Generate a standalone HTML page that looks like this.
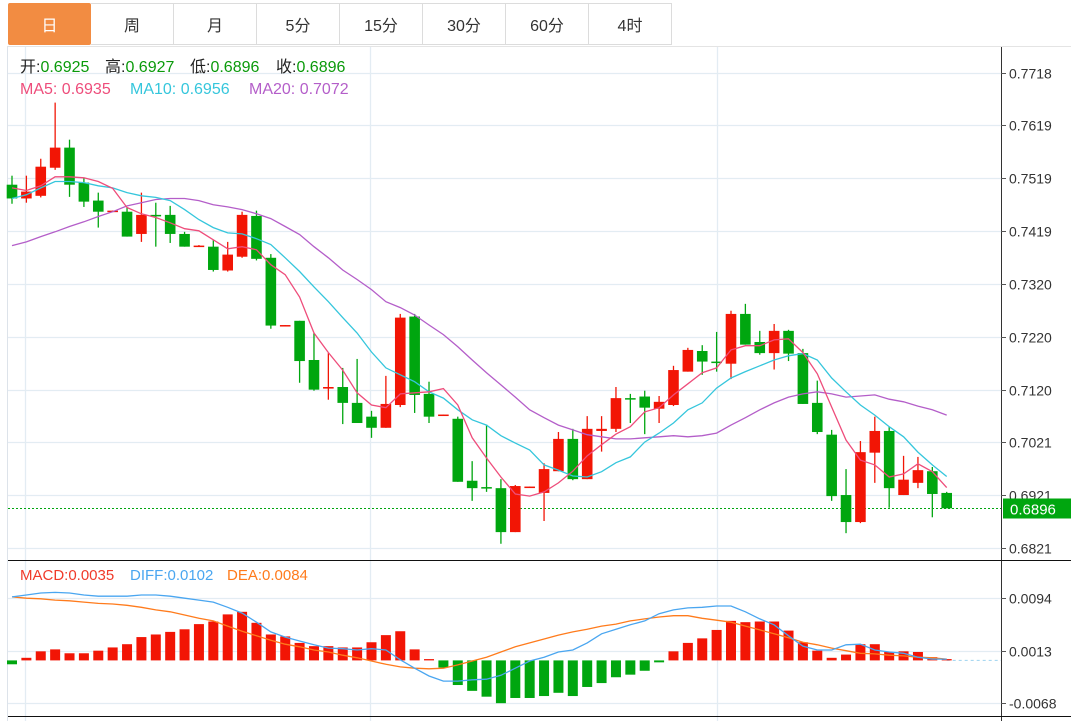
<!DOCTYPE html>
<html><head><meta charset="utf-8">
<style>
html,body{margin:0;padding:0;background:#fff;}
body{width:1071px;height:721px;overflow:hidden;position:relative;font-family:"Liberation Sans","Noto Sans CJK SC",sans-serif;}
.tabs{position:absolute;left:8px;top:3px;height:43px;display:flex;}
.tab{width:83px;height:42px;border:1px solid #dcdcdc;border-left:none;box-sizing:border-box;display:flex;align-items:center;justify-content:center;font-size:16px;color:#333;background:#fff;}
.tab.first{border-left:1px solid #dcdcdc;}
.tab.active{background:#f28c42;color:#fff;border-color:#f28c42;border-radius:2px;}
svg{position:absolute;left:0;top:0;}
</style></head>
<body>
<div class="tabs">
<div class="tab first active">日</div>
<div class="tab">周</div>
<div class="tab">月</div>
<div class="tab">5分</div>
<div class="tab">15分</div>
<div class="tab">30分</div>
<div class="tab">60分</div>
<div class="tab">4时</div>
</div>
<svg id="chart" width="1071" height="721"></svg>
<script>
const opens=[.7507,.7481,.7486,.7539,.7577,.7511,.7477,.7457,.7456,.7414,.7450,.7450,.7414,.7392,.7390,.7345,.7371,.7448,.7369,.7241,.7250,.7176,.7122,.7125,.7095,.7069,.7048,.7091,.7258,.7112,.7072,.7065,.6948,.6936,.6934,.6851,.6936,.6925,.6966,.7027,.6951,.7042,.7046,.7104,.7107,.7084,.7091,.7154,.7193,.7173,.7169,.7263,.7210,.7189,.7231,.7189,.7095,.7035,.6921,.6870,.7001,.7042,.6921,.6944,.6966,.6925];
const closes=[.7481,.7494,.7541,.7577,.7507,.7475,.7456,.7458,.7409,.7450,.7448,.7414,.7390,.7392,.7346,.7375,.7450,.7367,.7241,.7242,.7174,.7120,.7125,.7095,.7057,.7048,.7093,.7256,.7110,.7069,.7073,.6946,.6934,.6934,.6851,.6938,.6937,.6970,.7027,.6951,.7046,.7046,.7104,.7103,.7086,.7097,.7157,.7195,.7173,.7171,.7263,.7205,.7189,.7231,.7188,.7093,.7040,.6919,.6870,.7002,.7042,.6934,.6950,.6968,.6923,.6896];
const highs=[.7524,.7524,.7556,.7662,.7592,.7520,.7492,.7458,.7464,.7492,.7473,.7467,.7418,.7393,.7403,.7399,.7456,.7458,.7376,.7242,.7250,.7227,.7189,.7161,.7178,.7080,.7146,.7263,.7263,.7135,.7073,.7069,.6985,.7054,.6951,.6940,.6937,.6981,.7040,.7046,.7070,.7070,.7125,.7112,.7118,.7108,.7165,.7199,.7204,.7229,.7269,.7282,.7231,.7244,.7233,.7197,.7137,.7044,.6970,.7023,.7069,.7050,.6995,.6993,.6974,.6927];
const lows=[.7471,.7473,.7483,.7535,.7484,.7465,.7426,.7456,.7409,.7399,.7390,.7397,.7390,.7391,.7343,.7343,.7369,.7364,.7235,.7240,.7133,.7118,.7101,.7055,.7057,.7029,.7048,.7087,.7076,.7057,.7071,.6946,.6910,.6927,.6829,.6851,.6936,.6872,.6966,.6949,.6951,.7003,.7040,.7057,.7036,.7057,.7089,.7154,.7148,.7154,.7140,.7205,.7186,.7158,.7174,.7093,.7036,.6910,.6849,.6868,.6944,.6897,.6921,.6934,.6879,.6896];
const ma5=[.7501,.7496,.7505,.7522,.7522,.7520,.7513,.7500,.7464,.7452,.7445,.7435,.7424,.7420,.7403,.7386,.7390,.7384,.7356,.7337,.7295,.7227,.7190,.7157,.7114,.7091,.7086,.7112,.7114,.7116,.7122,.7091,.7029,.6991,.6955,.6923,.6919,.6927,.6944,.6966,.6995,.7016,.7036,.7050,.7078,.7086,.7110,.7131,.7152,.7161,.7195,.7203,.7203,.7214,.7216,.7190,.7150,.7087,.7025,.6987,.6978,.6955,.6961,.6980,.6965,.6935];
const ma10=[.7481,.7488,.7501,.7513,.7513,.7511,.7505,.7501,.7492,.7486,.7483,.7477,.7460,.7441,.7426,.7416,.7414,.7405,.7394,.7369,.7343,.7314,.7286,.7256,.7227,.7191,.7161,.7148,.7135,.7116,.7104,.7082,.7063,.7053,.7033,.7019,.7006,.6978,.6968,.6957,.6955,.6965,.6982,.6993,.7021,.7038,.7057,.7082,.7095,.7123,.7142,.7154,.7165,.7176,.7184,.7188,.7176,.7142,.7116,.7091,.7072,.7050,.7031,.7002,.6978,.6956];
const ma20=[.7392,.7399,.7409,.7418,.7428,.7437,.7447,.7456,.7467,.7473,.7479,.7481,.7481,.7477,.7469,.7465,.7460,.7452,.7443,.7428,.7413,.7390,.7369,.7346,.7328,.7309,.7286,.7275,.7261,.7242,.7224,.7201,.7176,.7152,.7129,.7106,.7082,.7067,.7053,.7044,.7035,.7031,.7027,.7027,.7029,.7031,.7033,.7031,.7033,.7038,.7053,.7067,.7082,.7095,.7106,.7112,.7116,.7112,.7106,.7108,.7110,.7102,.7097,.7089,.7082,.7072];
const macd=[-.0006,.0004,.0014,.0017,.0011,.0011,.0015,.0020,.0025,.0036,.0040,.0044,.0048,.0056,.0060,.0071,.0075,.0058,.0040,.0037,.0027,.0022,.0022,.0020,.0020,.0028,.0039,.0045,.0017,.0002,-.0011,-.0038,-.0047,-.0056,-.0066,-.0058,-.0058,-.0055,-.0050,-.0055,-.0041,-.0035,-.0026,-.0022,-.0016,-.0003,.0014,.0027,.0034,.0047,.0061,.0059,.0060,.0060,.0046,.0028,.0015,.0004,.0009,.0025,.0025,.0013,.0014,.0013,.0005,.0002];
const diff=[.0098,.0101,.0104,.0105,.0104,.0101,.0099,.0099,.0099,.0101,.0101,.0099,.0096,.0093,.0090,.0082,.0073,.0059,.0044,.0036,.0030,.0024,.0019,.0018,.0016,.0018,.0016,.0001,-.0012,-.0024,-.0032,-.0032,-.0030,-.0029,-.0023,-.0012,-.0001,.0005,.0013,.0016,.0027,.0041,.0048,.0055,.0061,.0072,.0078,.0081,.0082,.0084,.0084,.0075,.0064,.0055,.0038,.0022,.0016,.0016,.0024,.0025,.0016,.0013,.0011,.0005,.0002,.0002];
const dea=[.0098,.0096,.0095,.0093,.0092,.0090,.0088,.0087,.0085,.0082,.0078,.0075,.0070,.0065,.0061,.0053,.0045,.0038,.0031,.0025,.0021,.0016,.0013,.0008,.0004,-.0001,-.0006,-.0010,-.0012,-.0013,-.0012,-.0007,-.0001,.0005,.0013,.0021,.0027,.0033,.0039,.0044,.0048,.0053,.0056,.0061,.0064,.0067,.0069,.0069,.0065,.0062,.0059,.0053,.0047,.0041,.0035,.0028,.0024,.0019,.0015,.0011,.0010,.0008,.0007,.0005,.0004,.0002];
const priceTicks=[.7718,.7619,.7519,.7419,.7320,.7220,.7120,.7021,.6921,.6821];
const macdTicks=[.0094,.0013,-.0068];
const lastPrice=.6896;

const RED='#f21505',GREEN='#00a60f';
const svg=document.getElementById('chart');
const NS='http://www.w3.org/2000/svg';
function mk(tag,attrs,parent){const e=document.createElementNS(NS,tag);for(const k in attrs)e.setAttribute(k,attrs[k]);(parent||svg).appendChild(e);return e;}
const X=i=>12+i*14.38;
const Y=v=>548-(v-0.6821)*5296;
const MY=v=>660.4-v*6480;

const frame=mk('g',{});


mk('line',{x1:7,y1:46.5,x2:1071,y2:46.5,stroke:'#e4e4e4'},frame);
mk('line',{x1:7.5,y1:46,x2:7.5,y2:721,stroke:'#dde3ea'},frame);
[25,370,717].forEach(x=>mk('line',{x1:x+.5,y1:47,x2:x+.5,y2:721,stroke:'#e3ecf3','stroke-width':1.3},frame));
const yAxis=mk('g',{});


priceTicks.forEach(t=>{const y=Math.round(Y(t))+.5;
 mk('line',{x1:8,y1:y,x2:1001,y2:y,stroke:'#e3ecf3','stroke-width':1.3},yAxis);
 mk('line',{x1:1001,y1:y,x2:1006,y2:y,stroke:'#555'},yAxis);
 const tx=mk('text',{x:1009,y:y+5,'font-size':14,fill:'#333'},yAxis);tx.textContent=t.toFixed(4);
 
 
});
const mAxis=mk('g',{});


macdTicks.forEach(t=>{const y=Math.round(MY(t))-.5;
 mk('line',{x1:8,y1:y,x2:1001,y2:y,stroke:'#e3ecf3','stroke-width':1.3},mAxis);
 mk('line',{x1:1001,y1:y,x2:1006,y2:y,stroke:'#555'},mAxis);
 const tx=mk('text',{x:1009,y:y+5,'font-size':14,fill:'#333'},mAxis);tx.textContent=t.toFixed(4);
 
 
});
mk('line',{x1:1001.5,y1:47,x2:1001.5,y2:721,stroke:'#333'},frame);
mk('line',{x1:8,y1:560.5,x2:1071,y2:560.5,stroke:'#111'},frame);
mk('line',{x1:8,y1:716.5,x2:1071,y2:716.5,stroke:'#111'},frame);

const lp=Math.round(Y(lastPrice))+.5;
const lpl=mk('line',{x1:8,y1:lp,x2:1001,y2:lp,stroke:GREEN,'stroke-dasharray':'2,2'});


const lpb=mk('rect',{x:1003,y:lp-10,width:68,height:20,fill:GREEN});


const lpt=mk('text',{x:1010,y:lp+6,'font-size':15,fill:'#fff'});lpt.textContent='0.6896';



const cg=mk('g',{});


for(let i=0;i<opens.length;i++){
 const up=closes[i]>=opens[i];const col=up?RED:GREEN;const x=X(i);
 const g=mk('g',{},cg);
 
 
 mk('line',{x1:x,y1:Y(highs[i]),x2:x,y2:Y(lows[i]),stroke:col,'stroke-width':1.3},g);
 const t=Math.min(Y(opens[i]),Y(closes[i]));const h=Math.max(1.5,Math.abs(Y(opens[i])-Y(closes[i])));
 mk('rect',{x:x-5.3,y:t,width:10.6,height:h,fill:col},g);
}
function line(arr,f,col,name){let d='';arr.forEach((v,i)=>{d+=(i?'L':'M')+X(i).toFixed(1)+' '+f(v).toFixed(1);});
 const p=mk('path',{d:d,fill:'none',stroke:col,'stroke-width':1.3});
 
 }
line(ma20,Y,'#b45ec9','ma20-line');
line(ma10,Y,'#35c6dc','ma10-line');
line(ma5,Y,'#ee4d7b','ma5-line');

const zl=mk('line',{x1:X(macd.length-1),y1:MY(0),x2:1001,y2:MY(0),stroke:'#9dd3ef','stroke-dasharray':'3,3'});


const mg=mk('g',{});


macd.forEach((v,i)=>{const y0=MY(0),y1=MY(v);
 const r=mk('rect',{x:X(i)-5,y:Math.min(y0,y1),width:10,height:Math.max(1,Math.abs(y1-y0)),fill:v>=0?RED:GREEN},mg);
 
 
});
line(dea,MY,'#ff7b1c','dea-line');
line(diff,MY,'#4aa6f0','diff-line');

function txt(x,y,parts,size,name){const t=mk('text',{x:x,y:y,'font-size':size});
 
 
 parts.forEach(p=>{const s=mk('tspan',{fill:p[1]},t);s.textContent=p[0];});}
const G2='#0a9a0a';
txt(20,72,[['开:','#222'],['0.6925',G2]],16,'open-value');
txt(105,72,[['高:','#222'],['0.6927',G2]],16,'high-value');
txt(190,72,[['低:','#222'],['0.6896',G2]],16,'low-value');
txt(276,72,[['收:','#222'],['0.6896',G2]],16,'close-value');
txt(20,94,[['MA5: 0.6935','#ee4d7b']],16,'ma5-legend');
txt(130,94,[['MA10: 0.6956','#35c6dc']],16,'ma10-legend');
txt(249,94,[['MA20: 0.7072','#b45ec9']],16,'ma20-legend');
txt(20,580,[['MACD:0.0035','#f03a2a']],15,'macd-legend');
txt(130,580,[['DIFF:0.0102','#4aa6f0']],15,'diff-legend');
txt(227,580,[['DEA:0.0084','#ff7b1c']],15,'dea-legend');
</script>
</body></html>
